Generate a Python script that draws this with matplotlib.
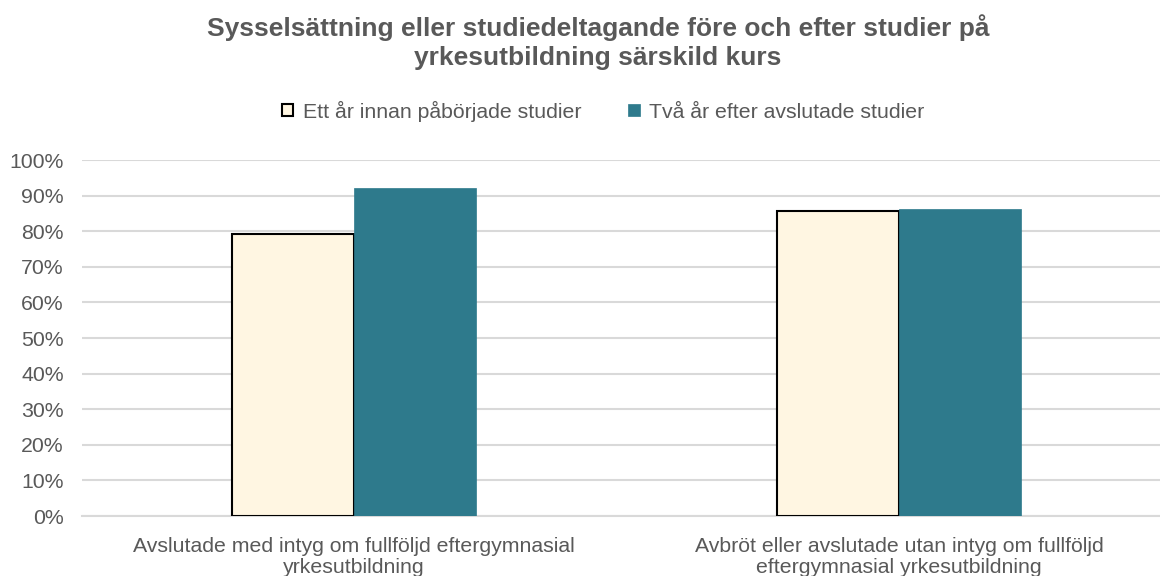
import numpy as np
import matplotlib.pyplot as plt
from matplotlib.ticker import PercentFormatter

plt.rcParams['font.family'] = ['Liberation Sans', 'DejaVu Sans']

categories = ['Avslutade med intyg om fullföljd eftergymnasial\nyrkesutbildning',
              'Avbröt eller avslutade utan intyg om fullföljd\neftergymnasial yrkesutbildning']
series_names = ['Ett år innan påbörjade studier', 'Två år efter avslutade studier']
before = [0.793, 0.858]
after = [0.921, 0.862]

title = 'Sysselsättning eller studiedeltagande före och efter studier på\nyrkesutbildning särskild kurs'

fig = plt.figure(figsize=(11.6, 5.76), dpi=100)
ax = fig.add_axes([82 / 1160, 1 - 516 / 576, 1 - 82 / 1160, (516 - 160) / 576])

x = np.arange(len(categories))
w = 0.224
ax.bar(x - w / 2, before, w, color='#FFF6E2', edgecolor='black', linewidth=1.5,
       label=series_names[0], zorder=3)
ax.bar(x + w / 2, after, w, color='#2E7A8C', edgecolor='#2E7A8C', linewidth=0.5,
       label=series_names[1], zorder=3)

ax.set_xlim(-0.499, 1.479)
ax.set_ylim(0, 1.0)
ax.set_yticks(np.arange(0, 1.01, 0.1))
ax.yaxis.set_major_formatter(PercentFormatter(1.0, decimals=0))
ax.set_xticks(x)
ax.set_xticklabels(categories)
ax.tick_params(axis='both', length=0, labelsize=15.3, colors='#595959')
ax.tick_params(axis='x', pad=15)
ax.tick_params(axis='y', pad=13)
for lab in ax.get_xticklabels():
    lab.set_linespacing(1.17)
ax.grid(axis='y', color='#D9D9D9', linewidth=1.5, zorder=0)
for s in ['top', 'right', 'left']:
    ax.spines[s].set_visible(False)
ax.spines['bottom'].set_color('#D9D9D9')
ax.spines['bottom'].set_linewidth(1.5)

fig.text(598 / 1160, 1 - 42 / 576, title, ha='center', va='center', fontsize=19,
         fontweight='bold', color='#595959', linespacing=1.22)

fig.legend(loc='center', bbox_to_anchor=(603 / 1160, 1 - 111 / 576), ncol=2, frameon=False,
           fontsize=15.3, labelcolor='#595959', handlelength=0.55, handleheight=0.55,
           columnspacing=2.2, handletextpad=0.45)

fig.savefig('out.png', dpi=100)
